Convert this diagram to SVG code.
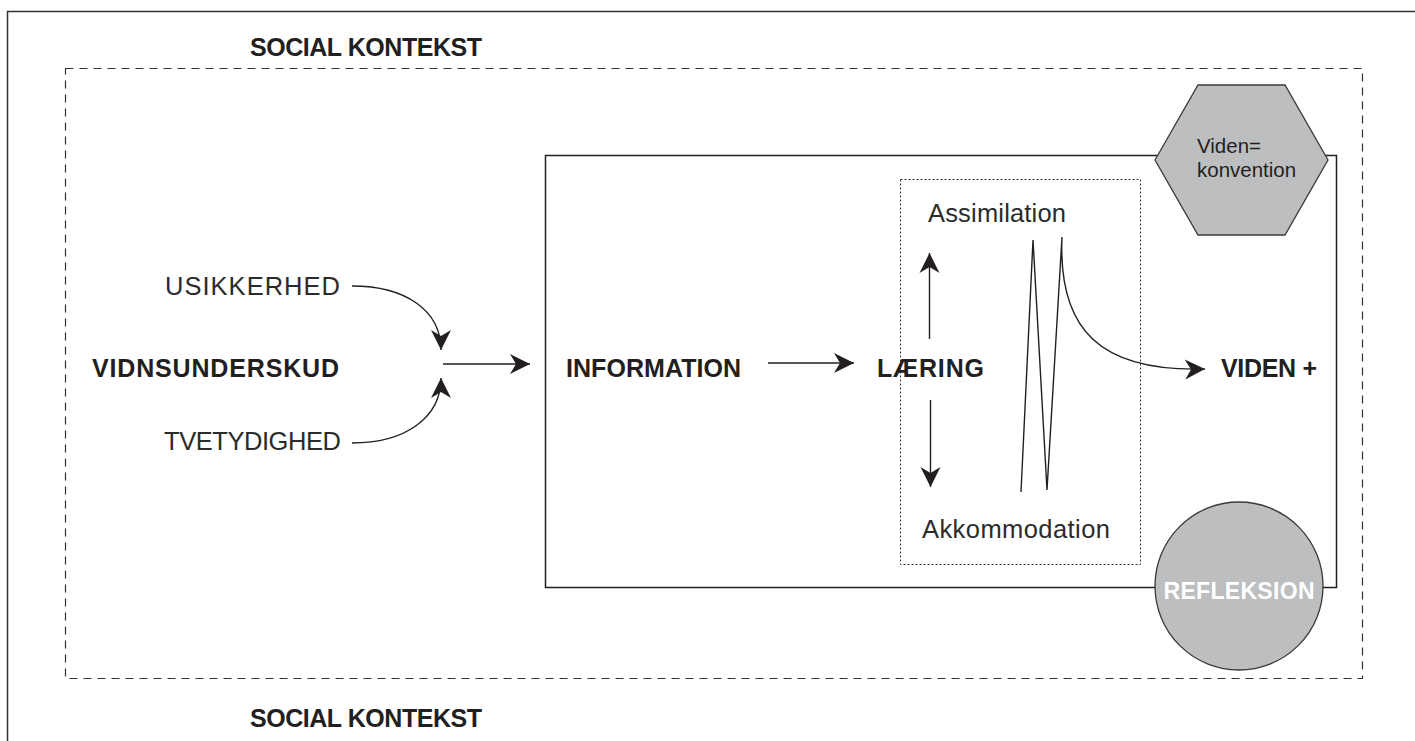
<svg xmlns="http://www.w3.org/2000/svg" width="1415" height="741" viewBox="0 0 1415 741">
<style>
.b{font-family:"Liberation Sans",Arial,sans-serif;font-weight:bold;font-size:25px;fill:#231f20}
.l{font-family:"Liberation Sans",Arial,sans-serif;font-size:25.5px;fill:#2b2b2b}
.s{font-family:"Liberation Sans",Arial,sans-serif;font-size:20.5px;fill:#231f20}
.ln{fill:none;stroke:#231f20;stroke-width:1.4}
.shape{fill:#bcbec0;stroke:#3a3a3a;stroke-width:1.3}
</style>
<defs>
<marker id="ah" viewBox="-21 -11 22 22" refX="0" refY="0" markerWidth="22" markerHeight="22" orient="auto" markerUnits="userSpaceOnUse">
<path d="M0,0 L-20,-10 L-14,0 L-20,10 Z" fill="#231f20"/>
</marker>
</defs>
<rect width="1415" height="741" fill="#fff"/>
<g id="frame">
<rect x="7.5" y="11.5" width="1430" height="760" fill="none" stroke="#333" stroke-width="1.5"/>
<rect x="65.5" y="68.5" width="1297" height="610" fill="none" stroke="#333" stroke-width="1.2" stroke-dasharray="8,6"/>
<text class="b" x="366" y="56" text-anchor="middle" textLength="232">SOCIAL KONTEKST</text>
<text class="b" x="366" y="727" text-anchor="middle" textLength="232">SOCIAL KONTEKST</text>
</g>
<g id="process-box">
<rect x="545.5" y="155.5" width="791" height="432" fill="none" stroke="#231f20" stroke-width="1.5"/>
</g>
<g id="learning-box">
<rect x="900.5" y="179.5" width="240" height="385" fill="none" stroke="#333" stroke-width="1" stroke-dasharray="2,2"/>
</g>
<g id="usikkerhed"><text class="l" x="165" y="295" textLength="175">USIKKERHED</text></g>
<g id="vidnsunderskud"><text class="b" x="92" y="377" textLength="247">VIDNSUNDERSKUD</text></g>
<g id="tvetydighed"><text class="l" x="164" y="450" textLength="177">TVETYDIGHED</text></g>
<g id="information"><text class="b" x="566" y="377" textLength="175">INFORMATION</text></g>
<g id="laering"><text class="b" x="877" y="377" textLength="107">LÆRING</text></g>
<g id="viden-plus"><text class="b" x="1221" y="377" textLength="96">VIDEN +</text></g>
<g id="assimilation"><text class="l" x="928" y="222" textLength="138">Assimilation</text></g>
<g id="akkommodation"><text class="l" x="922" y="538" textLength="188">Akkommodation</text></g>
<g id="viden-konvention">
<polygon class="shape" points="1155,160 1198,85 1285,85 1328,160 1285,235 1198,235"/>
<text class="s" x="1197" y="153">Viden=</text>
<text class="s" x="1197" y="177">konvention</text>
</g>
<g id="refleksion">
<circle class="shape" cx="1239" cy="586" r="84"/>
<text x="1239" y="599" text-anchor="middle" font-family="'Liberation Sans',Arial,sans-serif" font-weight="900" font-size="23" fill="#fff" textLength="151">REFLEKSION</text>
</g>
<g id="connectors">
<path class="ln" d="M352,286 C405,286 441,310 441,350" marker-end="url(#ah)"/>
<path class="ln" d="M352,443 C405,443 441,418 441,378" marker-end="url(#ah)"/>
<path class="ln" d="M443,364 L530,364" marker-end="url(#ah)"/>
<path class="ln" d="M768,363 L854,363" marker-end="url(#ah)"/>
<path class="ln" d="M929.5,339 L929.5,253" marker-end="url(#ah)"/>
<path class="ln" d="M930.5,400 L930.5,487" marker-end="url(#ah)"/>
<path class="ln" d="M1021,492 L1033,240 L1047,490 L1062,237 C1058,330 1100,372 1205,369" marker-end="url(#ah)"/>
</g>
</svg>
